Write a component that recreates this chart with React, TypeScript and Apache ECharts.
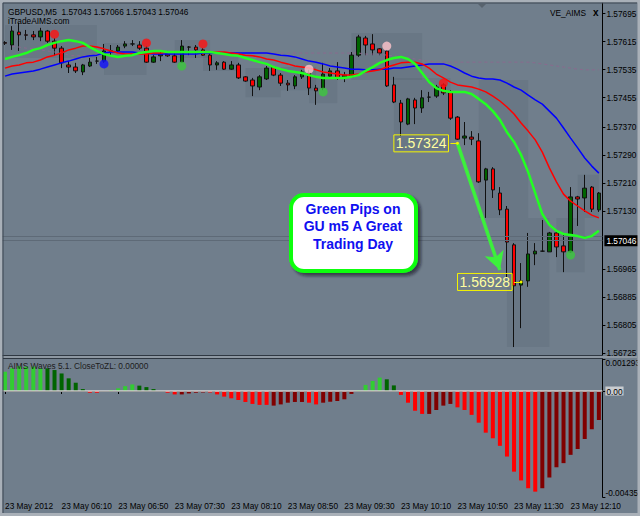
import React, { useEffect, useRef } from "react";
import * as echarts from "echarts";

const FONT = "'Liberation Sans', Arial, sans-serif";

// ---- Data ----
const tickLabels = [
  "23 May 2012", "23 May 06:10", "23 May 06:50", "23 May 07:30", "23 May 08:10", "23 May 08:50",
  "23 May 09:30", "23 May 10:10", "23 May 10:50", "23 May 11:30", "23 May 12:10",
];

// [open, close, low, high]
const candles = [
  [1.57612, 1.5761, 1.57605, 1.57616], [1.57605, 1.57645, 1.57591, 1.57659], [1.57642, 1.57634, 1.57588, 1.57668],
  [1.57634, 1.57633, 1.57619, 1.57648], [1.57634, 1.57628, 1.57619, 1.57645], [1.57628, 1.57645, 1.57616, 1.57654],
  [1.57645, 1.57616, 1.57611, 1.57648], [1.57616, 1.57596, 1.57574, 1.57625], [1.57596, 1.57554, 1.57539, 1.57602],
  [1.57548, 1.57542, 1.57525, 1.57559], [1.57542, 1.57531, 1.57525, 1.57554], [1.57528, 1.57548, 1.57519, 1.57551],
  [1.57545, 1.57556, 1.57542, 1.57568], [1.57559, 1.57559, 1.57551, 1.57571], [1.57559, 1.57588, 1.57554, 1.57608],
  [1.57588, 1.57588, 1.57571, 1.57605], [1.57588, 1.57599, 1.57582, 1.57605], [1.57602, 1.57608, 1.57596, 1.57616],
  [1.57608, 1.57608, 1.57602, 1.57619], [1.57605, 1.57596, 1.57591, 1.57616], [1.57596, 1.57556, 1.57554, 1.57602],
  [1.57556, 1.57571, 1.57554, 1.57576], [1.57574, 1.57579, 1.57559, 1.57588], [1.57579, 1.57574, 1.57571, 1.57588],
  [1.57574, 1.57556, 1.57554, 1.57588], [1.57556, 1.57602, 1.57554, 1.57619], [1.57599, 1.57599, 1.57576, 1.57602],
  [1.57599, 1.57591, 1.57568, 1.57605], [1.57591, 1.57576, 1.57574, 1.57596], [1.57576, 1.57548, 1.57531, 1.57582],
  [1.57548, 1.57554, 1.57534, 1.57559], [1.57556, 1.57536, 1.57534, 1.57559], [1.57536, 1.57548, 1.57534, 1.57559],
  [1.57548, 1.57511, 1.57508, 1.57554], [1.57514, 1.57502, 1.575, 1.57516], [1.57505, 1.57488, 1.57459, 1.57511],
  [1.57485, 1.57514, 1.57476, 1.57519], [1.57508, 1.57539, 1.57505, 1.57545], [1.57542, 1.57519, 1.57516, 1.57545],
  [1.57519, 1.57496, 1.57488, 1.57525], [1.57496, 1.57491, 1.57474, 1.57505], [1.57488, 1.57514, 1.57479, 1.57519],
  [1.57514, 1.57528, 1.57508, 1.57534], [1.57525, 1.57482, 1.57462, 1.57534], [1.57482, 1.57474, 1.57434, 1.57491],
  [1.57482, 1.57522, 1.57476, 1.57554], [1.57516, 1.57531, 1.57514, 1.57539], [1.57531, 1.57511, 1.57505, 1.57556],
  [1.57511, 1.57519, 1.57499, 1.57528], [1.57514, 1.57576, 1.57511, 1.57585], [1.57576, 1.57628, 1.57571, 1.57634],
  [1.57625, 1.57605, 1.57576, 1.57631], [1.57608, 1.57591, 1.57576, 1.57636], [1.57594, 1.57582, 1.57576, 1.57596],
  [1.57588, 1.57488, 1.57485, 1.57591], [1.57491, 1.57442, 1.57439, 1.57514], [1.57439, 1.57385, 1.57345, 1.57448],
  [1.57379, 1.57451, 1.57376, 1.57454], [1.57448, 1.57425, 1.57379, 1.57454], [1.57425, 1.57454, 1.57411, 1.57476],
  [1.57456, 1.57456, 1.57442, 1.57471], [1.57459, 1.57485, 1.57454, 1.57491], [1.57491, 1.57468, 1.57462, 1.57496],
  [1.57471, 1.57396, 1.57391, 1.57476], [1.57399, 1.57336, 1.57334, 1.57402], [1.57339, 1.57345, 1.57319, 1.57385],
  [1.57342, 1.57336, 1.57319, 1.57359], [1.57331, 1.57214, 1.57211, 1.57353], [1.57219, 1.57251, 1.57111, 1.57254],
  [1.57251, 1.57191, 1.57168, 1.57256], [1.57182, 1.57134, 1.57119, 1.57199], [1.57136, 1.57042, 1.56942, 1.57145],
  [1.57034, 1.56917, 1.56742, 1.57039], [1.56919, 1.56931, 1.56796, 1.56982], [1.56931, 1.57008, 1.56914, 1.57068],
  [1.57008, 1.57016, 1.56976, 1.57039], [1.57016, 1.57016, 1.57014, 1.57105], [1.57014, 1.57068, 1.57014, 1.57071],
  [1.57068, 1.57028, 1.56999, 1.57071], [1.57031, 1.57014, 1.56956, 1.57068], [1.57014, 1.57171, 1.57011, 1.57199],
  [1.57171, 1.57165, 1.57088, 1.57174], [1.57168, 1.57196, 1.57128, 1.57234], [1.57199, 1.57136, 1.57128, 1.57202],
  [1.57134, 1.57182, 1.57128, 1.57185],
];

const maGreen = [
  1.57565, 1.57571, 1.57576, 1.57582, 1.57591, 1.57596, 1.57605, 1.57611, 1.57616, 1.57619,
  1.57616, 1.57611, 1.57599, 1.57588, 1.57579, 1.57574, 1.57571, 1.57574, 1.57576, 1.57582,
  1.57585, 1.57588, 1.57588, 1.57585, 1.57585, 1.57585, 1.57585, 1.57585, 1.57585, 1.57585,
  1.57582, 1.57579, 1.57576, 1.57574, 1.57568, 1.57562, 1.57556, 1.57551, 1.57542, 1.57536,
  1.57531, 1.57528, 1.57525, 1.57519, 1.57514, 1.57511, 1.57511, 1.57511, 1.57511, 1.57514,
  1.57519, 1.57531, 1.57542, 1.57554, 1.57562, 1.57568, 1.57571, 1.57565, 1.57551, 1.57525,
  1.57499, 1.57482, 1.57474, 1.57471, 1.57471, 1.57471, 1.57465, 1.57451, 1.57436, 1.57416,
  1.57391, 1.57356, 1.57328, 1.57291, 1.57242, 1.57182, 1.57122, 1.57091, 1.57074, 1.57065,
  1.57062, 1.57059, 1.57054, 1.57059, 1.57074,
];

const maRed = [
  1.57539, 1.57545, 1.57548, 1.57554, 1.57556, 1.57562, 1.57571, 1.57576, 1.57582, 1.57591,
  1.57596, 1.57602, 1.57602, 1.57599, 1.57594, 1.57588, 1.57582, 1.57579, 1.57579, 1.57579,
  1.57579, 1.57582, 1.57582, 1.57585, 1.57585, 1.57585, 1.57585, 1.57585, 1.57585, 1.57585,
  1.57585, 1.57585, 1.57582, 1.57579, 1.57576, 1.57574, 1.57571, 1.57565, 1.57562, 1.57556,
  1.57551, 1.57545, 1.57542, 1.57539, 1.57534, 1.57528, 1.57525, 1.57522, 1.57519, 1.57519,
  1.57522, 1.57528, 1.57531, 1.57534, 1.57542, 1.57548, 1.57554, 1.57556, 1.57556, 1.57551,
  1.57539, 1.57522, 1.57511, 1.57499, 1.57491, 1.57488, 1.57485, 1.57479, 1.57471, 1.57459,
  1.57445, 1.57428, 1.57408, 1.57382, 1.57359, 1.57334, 1.57299, 1.57254, 1.57214, 1.57179,
  1.57159, 1.57145, 1.57131, 1.57119, 1.57111,
];

const maBlue = [
  1.57516, 1.57522, 1.57525, 1.57528, 1.57531, 1.57536, 1.57542, 1.57548, 1.57554, 1.57559,
  1.57565, 1.57571, 1.57574, 1.57576, 1.57582, 1.57585, 1.57585, 1.57585, 1.57585, 1.57582,
  1.57582, 1.57579, 1.57579, 1.57579, 1.57579, 1.57579, 1.57579, 1.57579, 1.57582, 1.57582,
  1.57582, 1.57582, 1.57582, 1.57582, 1.57582, 1.57582, 1.57582, 1.57582, 1.57579, 1.57576,
  1.57574, 1.57571, 1.57565, 1.57559, 1.57556, 1.57551, 1.57545, 1.57542, 1.57539, 1.57536,
  1.57536, 1.57534, 1.57534, 1.57536, 1.57536, 1.57539, 1.57539, 1.57542, 1.57545, 1.57548,
  1.57551, 1.57551, 1.57551, 1.57545, 1.57536, 1.57525, 1.57516, 1.57511, 1.57508, 1.57508,
  1.57505, 1.57496, 1.57485, 1.57476, 1.57462, 1.57448, 1.57436, 1.57416, 1.57396, 1.57368,
  1.57339, 1.57311, 1.57282, 1.57259, 1.57239,
];

const maDashed = [
  null, 1.57602, 1.57599, 1.57596, 1.57594, 1.57591, 1.57588, 1.57585, 1.57582, 1.57576,
  1.57574, 1.57574, 1.57576, 1.57579, 1.57582, 1.57582, 1.57582, 1.57582, 1.57582, 1.57582,
  1.57582, 1.57582, 1.57582, 1.57582, 1.57582, 1.57582, 1.57582, 1.57582, 1.57582, 1.57582,
  1.57582, 1.57582, 1.57582, 1.57582, 1.57582, 1.57582, 1.57582, 1.57582, 1.57582, 1.57582,
  1.57582, 1.57582, 1.57582, 1.57582, 1.57582, 1.57582, 1.57582, 1.57582, 1.57582, 1.57582,
  1.57582, 1.57579, 1.57579, 1.57579, 1.57576, 1.57574, 1.57571, 1.57568, 1.57565, 1.57562,
  1.57559, 1.57556, 1.57556, 1.57556, 1.57556, 1.57556, 1.57556, 1.57556, 1.57556, 1.57556,
  1.57556, 1.57556, 1.57556, 1.57556, 1.57556, 1.57554, 1.57551, 1.57548, 1.57545, 1.57542,
  1.57539, 1.57536, 1.57534, 1.57534, 1.57534,
];

const waves = [
  0.00079, 0.00093, 0.00102, 0.001, 0.001, 0.00093, 0.00093, 0.00086, 0.00072, 0.00052,
  0.00034, 0.00008, -0.00007, -0.00007, 0, 0.00004, 0.00011, 0.0002, 0.00027, 0.00022,
  0.00016, 0.00008, 0, -0.00007, -0.00014, -0.00014, -0.0001, -0.00007, -0.00006, -0.00006,
  -0.00014, -0.00023, -0.0003, -0.00037, -0.00045, -0.00053, -0.00057, -0.00057, -0.0006, -0.00055,
  -0.00048, -0.00045, -0.00045, -0.00048, -0.00055, -0.00048, -0.00044, -0.00041, -0.00034, -0.00012,
  0.00004, 0.00025, 0.00041, 0.00055, 0.00048, 0.00023, -0.00016, -0.00048, -0.00081, -0.00094,
  -0.00094, -0.00078, -0.0006, -0.00053, -0.00067, -0.00078, -0.00098, -0.0013, -0.00171, -0.00194,
  -0.00225, -0.00269, -0.00331, -0.00367, -0.00399, -0.00413, -0.00399, -0.00355, -0.00313, -0.00296,
  -0.00262, -0.00238, -0.00197, -0.00157, -0.00119,
];
// L light green, D dark green, R red, K dark red
const waveKinds = [
  "L", "L", "L", "L", "L", "L", "D", "D", "D", "D", "D", "D", "R", "R", "L", "L", "L", "L", "L", "D",
  "D", "D", "D", "R", "R", "K", "K", "K", "K", "R", "R", "R", "R", "R", "R", "R", "R", "R", "K", "K",
  "K", "K", "K", "R", "R", "K", "K", "K", "K", "K", "L", "L", "L", "L", "D", "D", "R", "R", "R", "R",
  "K", "K", "K", "K", "R", "R", "R", "R", "R", "R", "R", "R", "R", "R", "R", "R", "K", "K", "K", "K",
  "K", "K", "K", "K", "K",
];

const signalBars = [7, 14, 20, 25, 28, 43, 45, 54, 62, 80];
const signalPrices = [1.57636, 1.57551, 1.57611, 1.57545, 1.57608, 1.57536, 1.57471, 1.57602, 1.57496, 1.57005];
const signalKinds = ["red", "blue", "red", "green", "red", "pink", "green", "pink", "red", "green"];

const priceTicks = [1.57695, 1.57615, 1.57535, 1.57455, 1.5737, 1.5729, 1.5721, 1.5713, 1.56965, 1.56885, 1.56805, 1.56725];
const waveTicks = [0.001293, 0, -0.00435];

// [fromBar, toBar, highPrice, lowPrice]
const zones = [
  [0, 13, 1.57662, 1.57568], [14, 20, 1.57611, 1.57519], [24, 29, 1.57619, 1.57568], [28, 33, 1.57585, 1.57531],
  [34, 39, 1.57539, 1.57456], [39, 44, 1.57542, 1.57476], [43, 47, 1.57514, 1.57439], [49, 59, 1.57639, 1.57505],
  [55, 63, 1.57511, 1.57305], [67, 74, 1.57505, 1.57111], [71, 77, 1.57111, 1.56742], [78, 82, 1.57111, 1.56956],
  [81, 84, 1.57234, 1.57111],
];

const bidPrice = 1.57046;
const askPrice = 1.57059;
const arrowFrom = [64, 1.57324];
const arrowTo = [70, 1.56962];
const label1 = { bar: 64, price: 1.57324 };
const label2 = { bar: 73, price: 1.56928 };

const categories = candles.map((_, i) => {
  const t = 330 + 5 * i;
  return `${String(Math.floor(t / 60)).padStart(2, "0")}:${String(t % 60).padStart(2, "0")}`;
});

const waveColor: Record<string, string> = { L: "#32cd32", D: "#006400", R: "#ff0000", K: "#800000" };
const dotColor: Record<string, string> = { red: "#ff1010", blue: "#1010ff", green: "#3cc83c", pink: "#ffc4cc" };

export default function App() {
  const ref = useRef<HTMLDivElement>(null);
  useEffect(() => {
    if (!ref.current) return;
    const chart = echarts.init(ref.current, undefined, { renderer: "svg" });
    const txt = (text: string, x: number, y: number, extra: any = {}) => ({
      type: "text",
      x,
      y,
      z: 70,
      silent: true,
      style: { text, fill: "#000", fontSize: 8.3, fontFamily: FONT, verticalAlign: "middle", align: "left", ...extra },
    });
    const option: any = {
      animation: false,
      backgroundColor: "#707e8c",
      grid: [
        { left: 1.5, right: 37.6, top: 3, height: 352, outerBoundsMode: "none", containLabel: false },
        { left: 1.5, right: 37.6, top: 359.5, height: 137.5, outerBoundsMode: "none", containLabel: false },
      ],
      xAxis: [
        {
          type: "category", gridIndex: 0, data: categories, boundaryGap: true,
          axisLine: { show: true, lineStyle: { color: "#2f3842", width: 1 } },
          axisTick: { show: false }, axisLabel: { show: false }, splitLine: { show: false },
        },
        {
          type: "category", gridIndex: 1, data: categories, boundaryGap: true,
          axisLine: { show: true, lineStyle: { color: "#000", width: 1 } },
          axisTick: { show: true, alignWithLabel: true, length: 3, interval: (i: number) => i % 8 === 0, lineStyle: { color: "#000" } },
          axisLabel: {
            show: true, interval: (i: number) => i % 8 === 0, align: "left", margin: 5,
            formatter: (_v: string, i: number) => tickLabels[i / 8] ?? "",
            color: "#000", fontSize: 8.3, fontFamily: FONT,
          },
          splitLine: { show: false },
        },
      ],
      yAxis: [
        {
          type: "value", gridIndex: 0, position: "right", min: 1.567193, max: 1.57725,
          axisLine: { show: true, lineStyle: { color: "#000", width: 1 } },
          axisTick: { show: true, length: 3, customValues: priceTicks, lineStyle: { color: "#000" } },
          axisLabel: {
            show: true, customValues: priceTicks, margin: 4,
            formatter: (v: number) => v.toFixed(5), color: "#000", fontSize: 8.3, fontFamily: FONT,
          },
          splitLine: { show: false },
        },
        {
          type: "value", gridIndex: 1, position: "right", min: -0.00435, max: 0.001293,
          axisLine: { show: true, lineStyle: { color: "#000", width: 1 } },
          axisTick: { show: true, length: 3, customValues: waveTicks, lineStyle: { color: "#000" } },
          axisLabel: {
            show: true, customValues: waveTicks, margin: 3, color: "#000", fontSize: 8.3, fontFamily: FONT,
            formatter: (v: number) => (v > 0 ? "{t|0.001293}" : v < 0 ? "{b|-0.00435}" : "{z|0.00}"),
            rich: {
              t: { fontSize: 8.3, fontFamily: FONT, color: "#000", padding: [7, 0, 0, 0] },
              b: { fontSize: 8.3, fontFamily: FONT, color: "#000", padding: [0, 0, 8, 0] },
              z: { fontSize: 8.3, fontFamily: FONT, color: "#000", backgroundColor: "#c8ccd0", padding: [1, 1, 0, 1] },
            },
          },
          splitLine: { show: false },
        },
      ],
      series: [
        {
          type: "line", xAxisIndex: 0, yAxisIndex: 0, data: [], z: 1, silent: true,
          markArea: {
            silent: true,
            itemStyle: { color: "rgba(60,70,82,0.12)" },
            data: zones.map((zn) => [{ xAxis: zn[0], yAxis: zn[2] }, { xAxis: zn[1], yAxis: zn[3] }]),
          },
        },
        {
          type: "line", xAxisIndex: 0, yAxisIndex: 0, data: [], z: 1, silent: true,
          markLine: {
            silent: true, symbol: "none", precision: 5,
            lineStyle: { color: "#5e6a77", width: 1, type: "solid" },
            data: [
              { yAxis: askPrice, label: { show: false } },
              {
                yAxis: bidPrice,
                label: {
                  show: true, position: "end", distance: 2, formatter: bidPrice.toFixed(5),
                  color: "#fff", backgroundColor: "#000", padding: [2, 2, 1, 2], fontSize: 8.3, fontFamily: FONT,
                },
              },
            ],
          },
        },
        {
          type: "candlestick", xAxisIndex: 0, yAxisIndex: 0, data: candles, barWidth: 4, z: 2, silent: true,
          itemStyle: { color: "#006400", color0: "#ff0000", borderColor: "#111", borderColor0: "#111", borderWidth: 1 },
        },
        {
          type: "line", xAxisIndex: 0, yAxisIndex: 0, data: maDashed, symbol: "none", z: 3, silent: true,
          lineStyle: { color: "#8a6a8e", width: 1, type: [3, 3] },
        },
        {
          type: "line", xAxisIndex: 0, yAxisIndex: 0, data: maBlue, symbol: "none", z: 4, silent: true,
          lineStyle: { color: "#0000ff", width: 1.5 },
        },
        {
          type: "line", xAxisIndex: 0, yAxisIndex: 0, data: maRed, symbol: "none", z: 5, silent: true,
          lineStyle: { color: "#ff0000", width: 1.5 },
        },
        {
          type: "line", xAxisIndex: 0, yAxisIndex: 0, data: maGreen, symbol: "none", z: 6, silent: true,
          lineStyle: { color: "#22ff22", width: 2.5 },
        },
        {
          type: "scatter", xAxisIndex: 0, yAxisIndex: 0, symbolSize: 9, z: 7, silent: true,
          data: signalBars.map((b, i) => ({ value: [b, signalPrices[i]], itemStyle: { color: dotColor[signalKinds[i]] } })),
        },
        {
          type: "line", xAxisIndex: 0, yAxisIndex: 0, data: [], z: 8, silent: true,
          markLine: {
            silent: true, precision: 5, symbol: ["none", "arrow"], symbolSize: [15, 18],
            lineStyle: { color: "#3cf03c", width: 3.5, type: "solid" },
            label: { show: false },
            data: [[{ coord: arrowFrom }, { coord: arrowTo }]],
          },
        },
        {
          type: "line", xAxisIndex: 0, yAxisIndex: 0, data: [], z: 9, silent: true,
          markLine: {
            silent: true, precision: 5, symbol: ["none", "circle"], symbolSize: 3,
            lineStyle: { color: "#f0f000", width: 1, type: "solid" },
            label: { show: false },
            data: [
              [{ coord: [label1.bar - 1, label1.price] }, { coord: [label1.bar, label1.price] }],
              [{ coord: [label2.bar - 1, label2.price] }, { coord: [label2.bar, label2.price] }],
            ],
          },
          markPoint: {
            silent: true, symbol: "rect", symbolSize: 0,
            label: {
              show: true, position: "left", distance: 9, formatter: (p: any) => p.name,
              color: "#ffffa0", fontSize: 14, lineHeight: 15, fontFamily: FONT,
              borderColor: "#f4f400", borderWidth: 1, padding: [1, 2, 1, 2],
            },
            data: [
              { name: label1.price.toFixed(5), coord: [label1.bar, label1.price] },
              { name: label2.price.toFixed(5), coord: [label2.bar, label2.price] },
            ],
          },
        },
        {
          type: "bar", xAxisIndex: 1, yAxisIndex: 1, barWidth: 4, z: 2, silent: true,
          data: waves.map((v, i) => ({ value: v, itemStyle: { color: waveColor[waveKinds[i]] } })),
          markLine: {
            silent: true, symbol: "none", label: { show: false }, precision: 6,
            lineStyle: { color: "#d4d4d4", width: 1.5, type: "solid" },
            data: [{ yAxis: 0 }],
          },
        },
      ],
      graphic: [
        // window frame
        { type: "rect", silent: true, z: 40, shape: { x: 0, y: 0, width: 640, height: 2.5 }, style: { fill: "#a9b0b8" } },
        { type: "rect", silent: true, z: 40, shape: { x: 0, y: 0, width: 2.5, height: 516 }, style: { fill: "#a9b0b8" } },
        { type: "rect", silent: true, z: 40, shape: { x: 637.5, y: 0, width: 2.5, height: 516 }, style: { fill: "#a9b0b8" } },
        { type: "rect", silent: true, z: 40, shape: { x: 0, y: 513, width: 640, height: 3 }, style: { fill: "#a9b0b8" } },
        { type: "line", silent: true, z: 41, shape: { x1: 3, y1: 3, x2: 637, y2: 3 }, style: { stroke: "#3a4450", lineWidth: 1 } },
        { type: "line", silent: true, z: 41, shape: { x1: 3, y1: 3, x2: 3, y2: 513 }, style: { stroke: "#3a4450", lineWidth: 1 } },
        { type: "rect", silent: true, z: 40, shape: { x: 3, y: 356, width: 634, height: 2 }, style: { fill: "#8d97a1" } },
        { type: "line", silent: true, z: 41, shape: { x1: 3, y1: 358.5, x2: 603, y2: 358.5 }, style: { stroke: "#2f3842", lineWidth: 1 } },
        { type: "polygon", silent: true, z: 41, shape: { points: [[478, 4], [486, 4], [482, 8]] }, style: { fill: "#58636e" } },
        // texts
        txt("GBPUSD,M5  1.57043 1.57066 1.57043 1.57046", 8, 12),
        txt("iTradeAIMS.com", 8, 20.5),
        txt("VE_AIMS", 550, 13),
        txt("x", 593, 12.5, { fontWeight: "bold", fontSize: 10 }),
        txt("AIMS Waves 5.1. CloseToZL: 0.00000", 8, 366, { fill: "#1c1c1c" }),
        // annotation box
        {
          type: "rect", silent: true, z: 60,
          shape: { x: 291, y: 195, width: 125, height: 76, r: 13 },
          style: {
            fill: "#ffffff", stroke: "#11ff11", lineWidth: 4,
            shadowBlur: 3, shadowOffsetX: 3, shadowOffsetY: 3, shadowColor: "rgba(20,25,30,0.6)",
          },
        },
        txt("Green Pips on", 353, 208.5, { fill: "#1010f0", fontSize: 14, fontWeight: "bold", align: "center" }),
        txt("GU m5 A Great", 353, 226, { fill: "#1010f0", fontSize: 14, fontWeight: "bold", align: "center" }),
        txt("Trading Day", 353, 243.5, { fill: "#1010f0", fontSize: 14, fontWeight: "bold", align: "center" }),
      ],
    };
    chart.setOption(option);
    return () => chart.dispose();
  }, []);
  return <div ref={ref} style={{ position: "fixed", left: 0, top: 0, width: 640, height: 516 }} />;
}
